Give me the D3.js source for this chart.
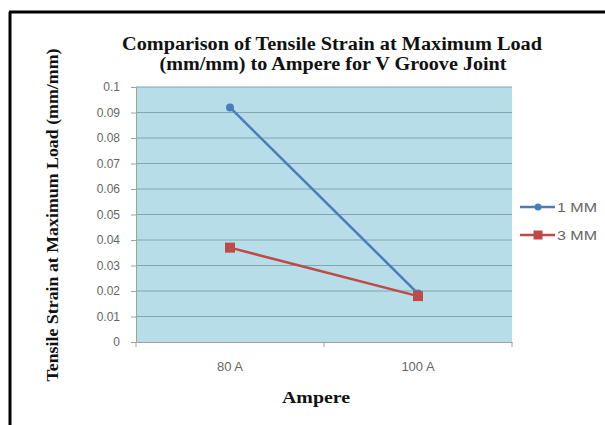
<!DOCTYPE html>
<html><head><meta charset="utf-8">
<script src="https://cdn.jsdelivr.net/npm/d3@7"></script>
<style>body{margin:0;background:#fff}svg{display:block}</style>
</head><body>
<svg id="c" width="605" height="425"></svg>
<script>
const categories = ["80 A", "100 A"];
const seriesNames = ["1 MM", "3 MM"];
const values1mm = [0.092, 0.019];
const values3mm = [0.037, 0.018];
const yTicks = [0, 0.01, 0.02, 0.03, 0.04, 0.05, 0.06, 0.07, 0.08, 0.09, 0.1];
const yTickLabels = ["0", "0.01", "0.02", "0.03", "0.04", "0.05", "0.06", "0.07", "0.08", "0.09", "0.1"];
const colors = ["#4a7ebb", "#be4b48"];

const svg = d3.select("#c");
svg.append("rect").attr("x",0).attr("y",0).attr("width",605).attr("height",425).attr("fill","#fff");
svg.append("line").attr("x1",10).attr("x2",10).attr("y1",12).attr("y2",425).attr("stroke","#000").attr("stroke-width",3);
svg.append("line").attr("x1",9).attr("x2",605).attr("y1",12).attr("y2",12).attr("stroke","#000").attr("stroke-width",3);

const L=136, R=512, T=87, B=342;
const x = d3.scaleBand().domain(categories).range([L,R]);
const y = d3.scaleLinear().domain([0,0.1]).range([B,T]);
const sans = "Liberation Sans, Arial, sans-serif";

svg.append("rect").attr("x",L).attr("y",T).attr("width",R-L).attr("height",B-T).attr("fill","#b7dde8");
svg.append("g").selectAll("line").data(yTicks.filter(d=>d>0)).join("line")
  .attr("x1",L).attr("x2",R).attr("y1",d=>y(d)).attr("y2",d=>y(d))
  .attr("stroke","#7fa6b4").attr("stroke-width",1);

const yAxis = d3.axisLeft(y).tickValues(yTicks).tickFormat((d,i)=>yTickLabels[i]).tickSize(5).tickPadding(11);
const gy = svg.append("g").attr("transform",`translate(${L},0)`).call(yAxis);
gy.select(".domain").attr("stroke","#a0a0a0");
gy.selectAll(".tick line").attr("stroke","#a0a0a0");
gy.selectAll("text").attr("fill","#666").style("font-family",sans).style("font-size","12px");

const xAxis = d3.axisBottom(x).tickSize(0).tickPadding(20);
const gx = svg.append("g").attr("transform",`translate(0,${B})`).call(xAxis);
gx.select(".domain").attr("stroke","#a0a0a0");
gx.selectAll("text").attr("fill","#666").style("font-family",sans).style("font-size","13px");
svg.append("g").selectAll("line").data([L, L+x.bandwidth(), R]).join("line")
  .attr("x1",d=>d).attr("x2",d=>d).attr("y1",B).attr("y2",B+5).attr("stroke","#a0a0a0");

const series = [values1mm, values3mm];
const line = d3.line().x((d,i)=>x(categories[i])+x.bandwidth()/2).y(d=>y(d));
series.forEach((vals,si)=>{
  svg.append("path").datum(vals).attr("d",line).attr("fill","none")
    .attr("stroke",colors[si]).attr("stroke-width",2.5);
});
svg.append("g").selectAll("circle").data(values1mm).join("circle")
  .attr("cx",(d,i)=>x(categories[i])+x.bandwidth()/2).attr("cy",d=>y(d)).attr("r",4).attr("fill",colors[0]);
svg.append("g").selectAll("rect").data(values3mm).join("rect")
  .attr("x",(d,i)=>x(categories[i])+x.bandwidth()/2-5).attr("y",d=>y(d)-5).attr("width",10).attr("height",10).attr("fill",colors[1]);

// legend
const lg = svg.append("g");
seriesNames.forEach((n,i)=>{
  const ly = 207 + i*28;
  lg.append("line").attr("x1",520).attr("x2",555).attr("y1",ly).attr("y2",ly).attr("stroke",colors[i]).attr("stroke-width",2.5);
  if(i===0) lg.append("circle").attr("cx",538).attr("cy",ly).attr("r",3.5).attr("fill",colors[i]);
  else lg.append("rect").attr("x",533.5).attr("y",ly-4.5).attr("width",9).attr("height",9).attr("fill",colors[i]);
  lg.append("text").attr("x",557).attr("y",ly+4.5).text(n).attr("fill","#666")
    .attr("textLength",40).attr("lengthAdjust","spacingAndGlyphs")
    .style("font-family",sans).style("font-size","13px");
});

// titles
const serif = "Liberation Serif, 'Times New Roman', serif";
const t1 = svg.append("text").attr("x",332).attr("y",50).attr("text-anchor","middle")
  .style("font-family",serif).style("font-weight","bold").style("font-size","18px").attr("fill","#111")
  .attr("textLength",420).attr("lengthAdjust","spacingAndGlyphs")
  .text("Comparison  of Tensile Strain at Maximum Load");
const t2 = svg.append("text").attr("x",333).attr("y",70).attr("text-anchor","middle")
  .style("font-family",serif).style("font-weight","bold").style("font-size","18px").attr("fill","#111")
  .attr("textLength",347).attr("lengthAdjust","spacingAndGlyphs")
  .text("(mm/mm) to Ampere for V Groove Joint");
svg.append("text").attr("transform","translate(58,215) rotate(-90)").attr("text-anchor","middle")
  .style("font-family",serif).style("font-weight","bold").style("font-size","16px").attr("fill","#111")
  .attr("textLength",333).attr("lengthAdjust","spacingAndGlyphs")
  .text("Tensile Strain at Maximum Load (mm/mm)");
svg.append("text").attr("x",316).attr("y",403).attr("text-anchor","middle")
  .style("font-family",serif).style("font-weight","bold").style("font-size","16px").attr("fill","#111")
  .attr("textLength",68).attr("lengthAdjust","spacingAndGlyphs")
  .text("Ampere");
</script>
</body></html>
